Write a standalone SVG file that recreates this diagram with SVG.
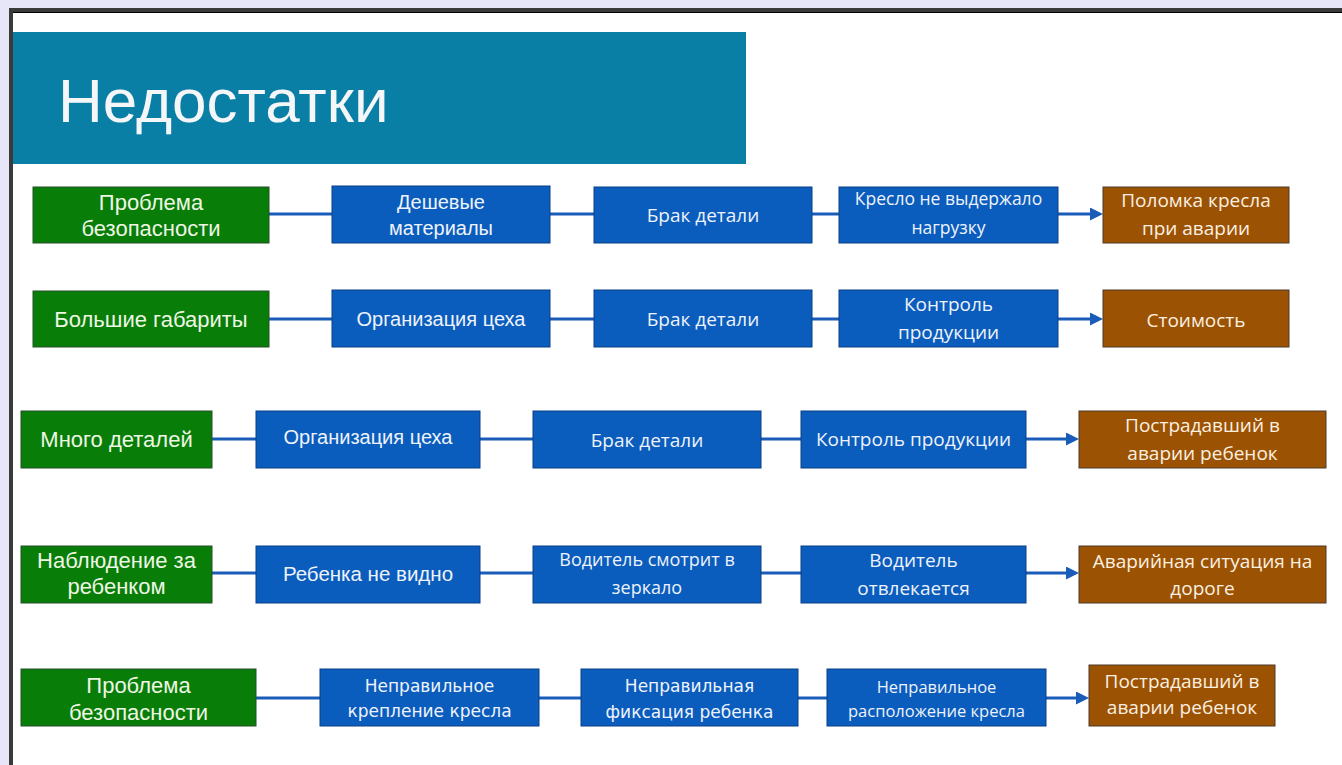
<svg xmlns="http://www.w3.org/2000/svg" width="1342" height="765" viewBox="0 0 1342 765">
<style>
.g{fill:#087d08;stroke:#24512a;stroke-width:1}
.b{fill:#0a5cbd;stroke:#0b3f85;stroke-width:1}
.r{fill:#9b5203;stroke:#4d3b2c;stroke-width:1}
text{text-anchor:middle}
.ta{font-family:"Liberation Sans",Arial,sans-serif;font-size:20px}
.tg{font-family:"Liberation Sans",Arial,sans-serif;font-size:22px}
.tc{font-family:"Open Sans","Noto Sans",sans-serif;font-size:19px}
.tv{font-family:"DejaVu Sans",Verdana,sans-serif;font-size:17px}
.wg{fill:#eef7e4}
.wb{fill:#eef3fb}
.wr{fill:#fbf0e0}
.conn line{stroke:#1a5db8;stroke-width:3;fill:none}
</style>
<defs>
<marker id="arr" markerUnits="userSpaceOnUse" markerWidth="14" markerHeight="14" refX="2" refY="6.5" orient="auto">
<path d="M0,0 L13,6.5 L0,13 z" fill="#1a5db8"/>
</marker>
</defs>
<rect x="0" y="0" width="1342" height="765" fill="#e6e6f8"/>
<rect x="13" y="13" width="1329" height="752" fill="#ffffff"/>
<rect x="9" y="8" width="1333" height="4" fill="#3a3a3a"/>
<rect x="9" y="12" width="1333" height="1" fill="#000000"/>
<rect x="9" y="8" width="4" height="757" fill="#3a3a3a"/>
<g id="header">
<rect x="13" y="32" width="733" height="132" fill="#0a7fa6"/>
<text x="58" y="122" style="text-anchor:start;font-family:'Liberation Sans',Arial,sans-serif;font-size:62px;fill:#f4f6f8">Недостатки</text>
</g>
<g class="conn">
<line x1="269" y1="214" x2="332" y2="214"/>
<line x1="550" y1="214" x2="594" y2="214"/>
<line x1="812" y1="214" x2="839" y2="214"/>
<line x1="1058" y1="214" x2="1092" y2="214" marker-end="url(#arr)"/>
<line x1="269" y1="319" x2="332" y2="319"/>
<line x1="550" y1="319" x2="594" y2="319"/>
<line x1="812" y1="319" x2="839" y2="319"/>
<line x1="1058" y1="319" x2="1092" y2="319" marker-end="url(#arr)"/>
<line x1="212" y1="439" x2="256" y2="439"/>
<line x1="480" y1="439" x2="533" y2="439"/>
<line x1="761" y1="439" x2="801" y2="439"/>
<line x1="1026" y1="439" x2="1068" y2="439" marker-end="url(#arr)"/>
<line x1="212" y1="573" x2="256" y2="573"/>
<line x1="480" y1="573" x2="533" y2="573"/>
<line x1="761" y1="573" x2="801" y2="573"/>
<line x1="1026" y1="573" x2="1068" y2="573" marker-end="url(#arr)"/>
<line x1="256" y1="698" x2="320" y2="698"/>
<line x1="539" y1="698" x2="581" y2="698"/>
<line x1="798" y1="698" x2="827" y2="698"/>
<line x1="1046" y1="698" x2="1078" y2="698" marker-end="url(#arr)"/>
</g>
<g id="r1a"><rect class="g" x="33" y="187" width="236" height="56"/><text class="tg wg" x="151" y="210">Проблема</text><text class="tg wg" x="151" y="236">безопасности</text></g>
<g id="r1b"><rect class="b" x="332" y="186" width="218" height="57"/><text class="ta wb" x="441" y="209">Дешевые</text><text class="ta wb" x="441" y="235">материалы</text></g>
<g id="r1c"><rect class="b" x="594" y="187" width="218" height="56"/><text class="tc wb" x="703" y="222">Брак детали</text></g>
<g id="r1d"><rect class="b" x="839" y="187" width="219" height="56"/><text class="tc wb" x="948.5" y="205" style="font-size:17.5px">Кресло не выдержало</text><text class="tc wb" x="948.5" y="234" style="font-size:17.5px">нагрузку</text></g>
<g id="r1e"><rect class="r" x="1103" y="187" width="186" height="56"/><text class="tc wr" x="1196" y="207">Поломка кресла</text><text class="tc wr" x="1196" y="235">при аварии</text></g>

<g id="r2a"><rect class="g" x="33" y="291" width="236" height="56"/><text class="tg wg" x="151" y="327">Большие габариты</text></g>
<g id="r2b"><rect class="b" x="332" y="290" width="218" height="57"/><text class="ta wb" x="441" y="326">Организация цеха</text></g>
<g id="r2c"><rect class="b" x="594" y="290" width="218" height="57"/><text class="tc wb" x="703" y="326">Брак детали</text></g>
<g id="r2d"><rect class="b" x="839" y="290" width="219" height="57"/><text class="tc wb" x="948.5" y="311">Контроль</text><text class="tc wb" x="948.5" y="339">продукции</text></g>
<g id="r2e"><rect class="r" x="1103" y="290" width="186" height="57"/><text class="tc wr" x="1196" y="327">Стоимость</text></g>

<g id="r3a"><rect class="g" x="21" y="411" width="191" height="57"/><text class="tg wg" x="116.5" y="447">Много деталей</text></g>
<g id="r3b"><rect class="b" x="256" y="411" width="224" height="57"/><text class="ta wb" x="368" y="444">Организация цеха</text></g>
<g id="r3c"><rect class="b" x="533" y="411" width="228" height="57"/><text class="tc wb" x="647" y="447">Брак детали</text></g>
<g id="r3d"><rect class="b" x="801" y="411" width="225" height="57"/><text class="tc wb" x="913.5" y="446">Контроль продукции</text></g>
<g id="r3e"><rect class="r" x="1079" y="411" width="247" height="57"/><text class="tc wr" x="1202.5" y="432">Пострадавший в</text><text class="tc wr" x="1202.5" y="460">аварии ребенок</text></g>

<g id="r4a"><rect class="g" x="21" y="546" width="191" height="57"/><text class="tg wg" x="116.5" y="568">Наблюдение за</text><text class="tg wg" x="116.5" y="594">ребенком</text></g>
<g id="r4b"><rect class="b" x="256" y="546" width="224" height="57"/><text class="ta wb" x="368" y="581" style="font-size:20.5px">Ребенка не видно</text></g>
<g id="r4c"><rect class="b" x="533" y="546" width="228" height="57"/><text class="tc wb" x="647" y="566" style="font-size:18px">Водитель смотрит в</text><text class="tc wb" x="647" y="594" style="font-size:18px">зеркало</text></g>
<g id="r4d"><rect class="b" x="801" y="546" width="225" height="57"/><text class="tc wb" x="913.5" y="567">Водитель</text><text class="tc wb" x="913.5" y="595">отвлекается</text></g>
<g id="r4e"><rect class="r" x="1079" y="546" width="247" height="57"/><text class="tc wr" x="1202.5" y="568">Аварийная ситуация на</text><text class="tc wr" x="1202.5" y="595">дороге</text></g>

<g id="r5a"><rect class="g" x="21" y="669" width="235" height="57"/><text class="tg wg" x="138.5" y="693">Проблема</text><text class="tg wg" x="138.5" y="720">безопасности</text></g>
<g id="r5b"><rect class="b" x="320" y="669" width="219" height="57"/><text class="tv wb" x="429.5" y="692">Неправильное</text><text class="tv wb" x="429.5" y="717">крепление кресла</text></g>
<g id="r5c"><rect class="b" x="581" y="669" width="217" height="57"/><text class="tv wb" x="689.5" y="692">Неправильная</text><text class="tv wb" x="689.5" y="718">фиксация ребенка</text></g>
<g id="r5d"><rect class="b" x="827" y="669" width="219" height="57"/><text class="tc wb" x="936.5" y="693" style="font-size:16.5px">Неправильное</text><text class="tc wb" x="936.5" y="717" style="font-size:16.5px">расположение кресла</text></g>
<g id="r5e"><rect class="r" x="1089" y="665" width="186" height="61"/><text class="tc wr" x="1182" y="688">Пострадавший в</text><text class="tc wr" x="1182" y="714">аварии ребенок</text></g>
</svg>
